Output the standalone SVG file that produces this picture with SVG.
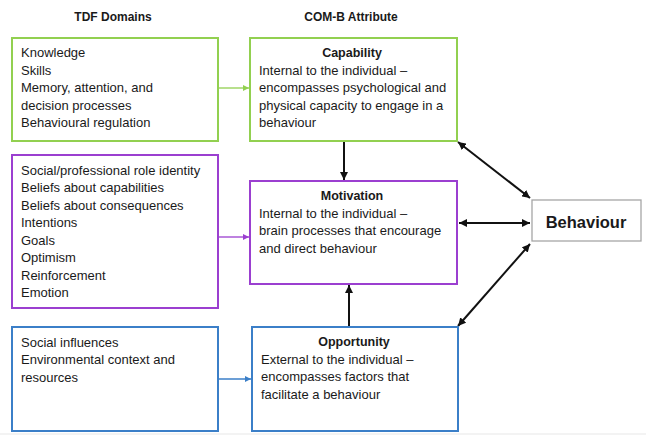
<svg xmlns="http://www.w3.org/2000/svg" width="646" height="435" viewBox="0 0 646 435">
  <style>
    text { font-family: "Liberation Sans", Arial, sans-serif; fill: #1a1a1a; }
    .hdr { font-size: 12px; font-weight: bold; text-anchor: middle; }
    .item { font-size: 13px; }
    .ttl { font-size: 12.5px; font-weight: bold; text-anchor: middle; }
    .box { fill: #ffffff; stroke-width: 2; }
    .green { stroke: #92d050; }
    .purple { stroke: #9b3fd0; }
    .blue { stroke: #3b7fc8; }
    .gray { stroke: #a6a6a6; stroke-width: 1.3; }
    .link { fill: none; stroke-width: 1.3; }
    .bold-link { fill: none; stroke: #111111; stroke-width: 2; }
  </style>
  <defs>
    <marker id="ahGreen" viewBox="0 0 10 10" refX="10" refY="5" markerWidth="6" markerHeight="6" markerUnits="userSpaceOnUse" orient="auto">
      <path d="M0,0 L10,5 L0,10 z" fill="#92d050"/>
    </marker>
    <marker id="ahPurple" viewBox="0 0 10 10" refX="10" refY="5" markerWidth="6" markerHeight="6" markerUnits="userSpaceOnUse" orient="auto">
      <path d="M0,0 L10,5 L0,10 z" fill="#9b3fd0"/>
    </marker>
    <marker id="ahBlue" viewBox="0 0 10 10" refX="10" refY="5" markerWidth="6" markerHeight="6" markerUnits="userSpaceOnUse" orient="auto">
      <path d="M0,0 L10,5 L0,10 z" fill="#3b7fc8"/>
    </marker>
    <marker id="ahBlack" viewBox="0 0 10 10" refX="10" refY="5" markerWidth="8" markerHeight="8" markerUnits="userSpaceOnUse" orient="auto-start-reverse">
      <path d="M0,0 L10,5 L0,10 z" fill="#111111"/>
    </marker>
  </defs>

  <rect x="0" y="0" width="646" height="435" fill="#ffffff"/>
  <rect x="0" y="433" width="646" height="2" fill="#f3f3f3"/>

  <!-- column headers -->
  <text class="hdr" x="113" y="21">TDF Domains</text>
  <text class="hdr" x="351" y="21">COM-B Attribute</text>

  <!-- connectors -->
  <g id="connectors">
    <line class="link" stroke="#92d050" x1="218" y1="88" x2="249" y2="88" marker-end="url(#ahGreen)"/>
    <line class="link" stroke="#9b3fd0" x1="218" y1="237" x2="249" y2="237" marker-end="url(#ahPurple)"/>
    <line class="link" stroke="#3b7fc8" x1="218" y1="379" x2="251" y2="379" marker-end="url(#ahBlue)"/>
    <line class="bold-link" x1="344" y1="141" x2="344" y2="180" marker-end="url(#ahBlack)"/>
    <line class="bold-link" x1="349" y1="327" x2="349" y2="285" marker-end="url(#ahBlack)"/>
    <line class="bold-link" x1="459" y1="223" x2="530" y2="223" marker-start="url(#ahBlack)" marker-end="url(#ahBlack)"/>
    <line class="bold-link" x1="458" y1="142" x2="530" y2="198" marker-start="url(#ahBlack)" marker-end="url(#ahBlack)"/>
    <line class="bold-link" x1="458" y1="326" x2="530" y2="244" marker-start="url(#ahBlack)" marker-end="url(#ahBlack)"/>
  </g>

  <!-- TDF domain groups -->
  <g id="tdf-capability">
    <rect class="box green" x="12" y="38" width="206" height="103"/>
    <text class="item" x="21" y="57">Knowledge</text>
    <text class="item" x="21" y="74.5">Skills</text>
    <text class="item" x="21" y="92">Memory, attention, and</text>
    <text class="item" x="21" y="109.5">decision processes</text>
    <text class="item" x="21" y="127">Behavioural regulation</text>
  </g>

  <g id="tdf-motivation">
    <rect class="box purple" x="12" y="155" width="206" height="153"/>
    <text class="item" x="21" y="174.5">Social/professional role identity</text>
    <text class="item" x="21" y="192">Beliefs about capabilities</text>
    <text class="item" x="21" y="209.5">Beliefs about consequences</text>
    <text class="item" x="21" y="227">Intentions</text>
    <text class="item" x="21" y="244.5">Goals</text>
    <text class="item" x="21" y="262">Optimism</text>
    <text class="item" x="21" y="279.5">Reinforcement</text>
    <text class="item" x="21" y="297">Emotion</text>
  </g>

  <g id="tdf-opportunity">
    <rect class="box blue" x="12" y="327" width="206" height="104"/>
    <text class="item" x="21" y="346.5">Social influences</text>
    <text class="item" x="21" y="364">Environmental context and</text>
    <text class="item" x="21" y="381.5">resources</text>
  </g>

  <!-- COM-B attributes -->
  <g id="capability">
    <rect class="box green" x="250" y="38" width="207" height="103"/>
    <text class="ttl" x="352" y="57">Capability</text>
    <text class="item" x="259" y="74.5">Internal to the individual –</text>
    <text class="item" x="259" y="92">encompasses psychological and</text>
    <text class="item" x="259" y="109.5">physical capacity to engage in a</text>
    <text class="item" x="259" y="127">behaviour</text>
  </g>

  <g id="motivation">
    <rect class="box purple" x="250" y="181" width="207" height="103"/>
    <text class="ttl" x="352" y="200">Motivation</text>
    <text class="item" x="259" y="217.5">Internal to the individual –</text>
    <text class="item" x="259" y="235">brain processes that encourage</text>
    <text class="item" x="259" y="252.5">and direct behaviour</text>
  </g>

  <g id="opportunity">
    <rect class="box blue" x="252" y="327" width="206" height="104"/>
    <text class="ttl" x="354" y="346">Opportunity</text>
    <text class="item" x="261" y="363.5">External to the individual –</text>
    <text class="item" x="261" y="381">encompasses factors that</text>
    <text class="item" x="261" y="398.5">facilitate a behaviour</text>
  </g>

  <g id="behaviour">
    <rect class="box gray" x="532" y="200" width="109" height="41"/>
    <text x="586" y="228" font-size="16.5" font-weight="bold" text-anchor="middle">Behaviour</text>
  </g>
</svg>
